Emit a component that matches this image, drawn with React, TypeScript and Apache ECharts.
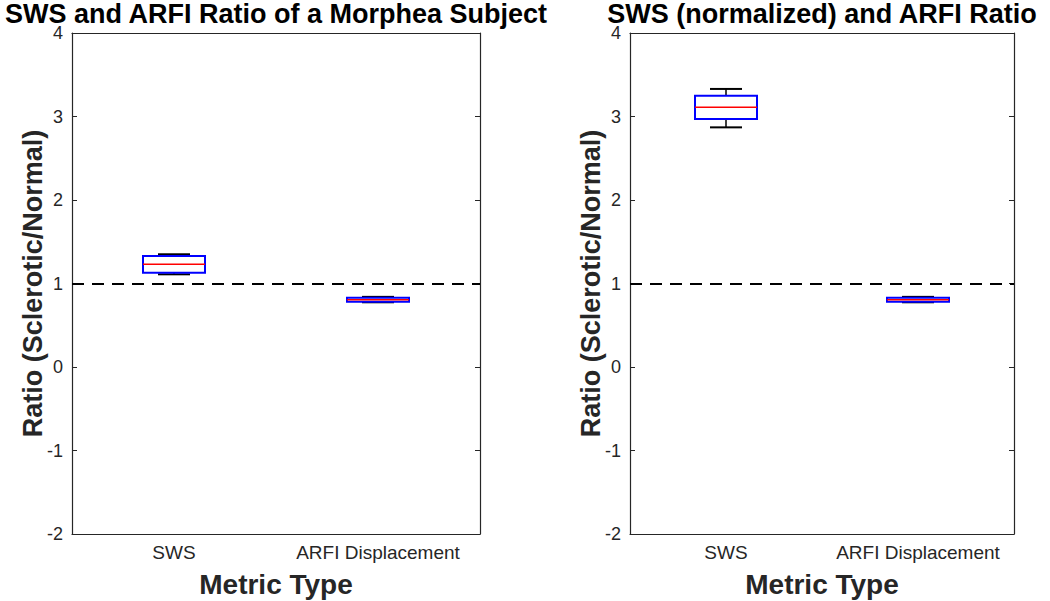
import React, { useEffect, useRef } from "react";
import * as echarts from "echarts";

const categories = ["SWS", "ARFI Displacement"];
const yTicks = { min: -2, max: 4, interval: 1 };
// [categoryIndex, lowerWhisker, q1, median, q3, upperWhisker]
const leftBoxes = [
  [0, 1.11, 1.13, 1.23, 1.33, 1.35],
  [1, 0.775, 0.78, 0.805, 0.83, 0.84],
];
const rightBoxes = [
  [0, 2.87, 2.97, 3.11, 3.25, 3.33],
  [1, 0.775, 0.78, 0.805, 0.83, 0.84],
];
const referenceLine = 1;
const titles = ["SWS and ARFI Ratio of a Morphea Subject", "SWS (normalized) and ARFI Ratio"];
const yName = "Ratio (Sclerotic/Normal)";
const xName = "Metric Type";

const FONT = "'Liberation Sans', Arial, sans-serif";
const AX = "#262626";

function renderBox(params: any, api: any) {
  const x = api.value(0);
  const pMin = api.coord([x, api.value(1)]);
  const pQ1 = api.coord([x, api.value(2)]);
  const pMed = api.coord([x, api.value(3)]);
  const pQ3 = api.coord([x, api.value(4)]);
  const pMax = api.coord([x, api.value(5)]);
  const cx = pMed[0];
  const hb = 31;
  const hc = 16;
  const black = { stroke: "#000", lineWidth: 1.5 };
  return {
    type: "group",
    children: [
      { type: "line", shape: { x1: cx, y1: pQ3[1], x2: cx, y2: pMax[1] }, style: black },
      { type: "line", shape: { x1: cx, y1: pQ1[1], x2: cx, y2: pMin[1] }, style: black },
      { type: "line", shape: { x1: cx - hc, y1: pMax[1], x2: cx + hc, y2: pMax[1] }, style: { stroke: "#000", lineWidth: 2 } },
      { type: "line", shape: { x1: cx - hc, y1: pMin[1], x2: cx + hc, y2: pMin[1] }, style: { stroke: "#000", lineWidth: 2 } },
      {
        type: "rect",
        shape: { x: cx - hb, y: pQ3[1], width: hb * 2, height: pQ1[1] - pQ3[1] },
        style: { fill: "none", stroke: "#0000ff", lineWidth: 2 },
      },
      { type: "line", shape: { x1: cx - hb, y1: pMed[1], x2: cx + hb, y2: pMed[1] }, style: { stroke: "#ff0000", lineWidth: 1.5 } },
    ],
  };
}

export default function App() {
  const ref = useRef<HTMLDivElement>(null);
  useEffect(() => {
    if (!ref.current) return;
    const chart = echarts.init(ref.current, null, { renderer: "svg" });
    const grids = [
      { left: 72, right: 570, top: 33, bottom: 67 },
      { left: 630, right: 36, top: 33, bottom: 67 },
    ];
    const xAxis: any[] = [];
    const yAxis: any[] = [];
    const series: any[] = [];
    const graphic: any[] = [];
    grids.forEach((g, i) => {
      xAxis.push({
        type: "category",
        gridIndex: i,
        data: categories,
        position: "bottom",
        axisLine: { onZero: false, lineStyle: { color: AX, width: 1.2 } },
        axisTick: { inside: true, alignWithLabel: true, length: 5, lineStyle: { color: AX } },
        axisLabel: { color: AX, fontSize: 19, fontFamily: FONT, margin: 9, interval: 0 },
        splitLine: { show: false },
      });
      xAxis.push({
        type: "category",
        gridIndex: i,
        data: categories,
        position: "top",
        axisLine: { onZero: false, lineStyle: { color: AX, width: 1.2 } },
        axisTick: { inside: true, alignWithLabel: true, length: 5, lineStyle: { color: AX } },
        axisLabel: { show: false },
        splitLine: { show: false },
      });
      yAxis.push({
        type: "value",
        gridIndex: i,
        min: yTicks.min,
        max: yTicks.max,
        interval: yTicks.interval,
        position: "left",
        axisLine: { show: true, onZero: false, lineStyle: { color: AX, width: 1.2 } },
        axisTick: { show: true, inside: true, length: 5, lineStyle: { color: AX } },
        axisLabel: { color: AX, fontSize: 18, lineHeight: 14, fontFamily: FONT, margin: 9 },
        splitLine: { show: false },
      });
      yAxis.push({
        type: "value",
        gridIndex: i,
        min: yTicks.min,
        max: yTicks.max,
        interval: yTicks.interval,
        position: "right",
        axisLine: { show: true, onZero: false, lineStyle: { color: AX, width: 1.2 } },
        axisTick: { show: true, inside: true, length: 5, lineStyle: { color: AX } },
        axisLabel: { show: false },
        splitLine: { show: false },
      });
      series.push({
        type: "custom",
        xAxisIndex: i * 2,
        yAxisIndex: i * 2,
        data: i === 0 ? leftBoxes : rightBoxes,
        encode: { x: 0, y: [1, 2, 3, 4, 5] },
        renderItem: renderBox,
        z: 3,
        markLine: {
          silent: true,
          symbol: ["none", "none"],
          label: { show: false },
          lineStyle: { color: "#000", width: 2, type: [12, 8] },
          data: [{ yAxis: referenceLine }],
          z: 2,
        },
      });
      const l = g.left;
      const r = 1050 - g.right;
      const cx = (l + r) / 2;
      graphic.push({
        type: "text",
        x: cx,
        y: 13.5,
        style: { text: titles[i], fontSize: 27, lineHeight: 24, fontWeight: "bold", fontFamily: FONT, fill: "#000", textAlign: "center", textVerticalAlign: "middle" },
      });
      graphic.push({
        type: "text",
        x: cx,
        y: 584,
        style: { text: xName, fontSize: 28, fontWeight: "bold", fontFamily: FONT, fill: AX, textAlign: "center", textVerticalAlign: "middle" },
      });
      graphic.push({
        type: "text",
        x: l - 39,
        y: 283.5,
        rotation: Math.PI / 2,
        style: { text: yName, fontSize: 27, fontWeight: "bold", fontFamily: FONT, fill: AX, textAlign: "center", textVerticalAlign: "middle" },
      });
    });
    chart.setOption({
      animation: false,
      backgroundColor: "#fff",
      grid: grids,
      xAxis,
      yAxis,
      series,
      graphic,
    });
    return () => chart.dispose();
  }, []);
  return <div ref={ref} style={{ width: 1050, height: 601, position: "absolute", left: 0, top: 0 }} />;
}
